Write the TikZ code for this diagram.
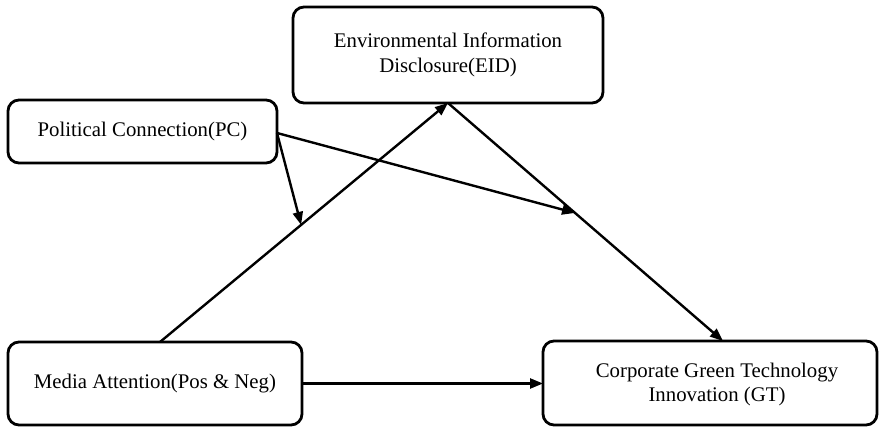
\documentclass[tikz,border=0pt]{standalone}
\usepackage{fontspec}
\setmainfont{Liberation Serif}
\usetikzlibrary{calc,arrows.meta}
\begin{document}
\begin{tikzpicture}[x=1pt,y=-1pt,
  box/.style={draw=black,line width=2.8pt,rounded corners=11pt,inner sep=0pt,outer sep=0pt,
    align=center,font=\fontsize{20.8}{24.5}\selectfont},
  conn/.style={line width=2.4pt,-{Triangle[length=13pt,width=10pt]}},
  txt/.style={align=center,inner sep=0pt,font=\fontsize{20.8}{24.5}\selectfont}]
\useasboundingbox (0,0) rectangle (883,427);
\node[box,minimum width=269pt,minimum height=63pt] (pc) at (142.5,131.5) {Political Connection(PC)};
\node[box,minimum width=310pt,minimum height=96pt] (eid) at (448,55) {Environmental Information\\Disclosure(EID)};
\node[box,minimum width=294pt,minimum height=83pt] (media) at (155,383.5) {Media Attention(Pos \& Neg)};
\node[box,minimum width=334pt,minimum height=84pt] (gt) at (710,383) {};
\node[txt] (gttext) at (717,384.5) {Corporate Green Technology\\Innovation (GT)};
\coordinate (ms) at ([xshift=152pt]media.north west);
\coordinate (eb) at (eid.south);
\coordinate (gtop) at ([xshift=13pt]gt.north);
\coordinate (m1) at ($(ms)!0.49!(eb)$);
\coordinate (m2) at ($(eb)!0.462!(gtop)$);
\draw[conn] (ms) -- (eb);
\draw[conn] (eb) -- (gtop);
\draw[conn] (media.east) -- (media.east -| gt.west);
\draw[conn] ([yshift=-1.5pt]pc.east) -- (m2);
\draw[conn] ([yshift=-1.5pt]pc.east) -- (m1);
\end{tikzpicture}
\end{document}
